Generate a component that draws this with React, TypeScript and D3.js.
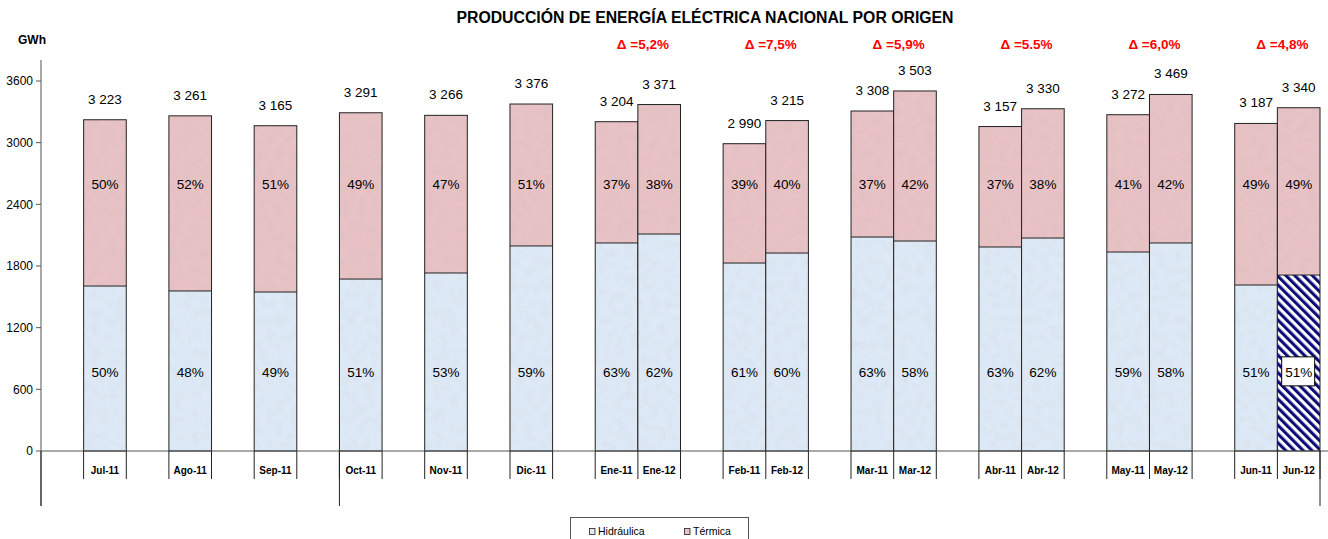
import React from "react";
import * as d3 from "d3";

// ---- Data ----
const slots = ["", "Jul-11", "", "Ago-11", "", "Sep-11", "", "Oct-11", "", "Nov-11", "", "Dic-11", "", "Ene-11", "Ene-12", "", "Feb-11", "Feb-12", "", "Mar-11", "Mar-12", "", "Abr-11", "Abr-12", "", "May-11", "May-12", "", "Jun-11", "Jun-12"];
const months = ["Jul-11", "Ago-11", "Sep-11", "Oct-11", "Nov-11", "Dic-11", "Ene-11", "Ene-12", "Feb-11", "Feb-12", "Mar-11", "Mar-12", "Abr-11", "Abr-12", "May-11", "May-12", "Jun-11", "Jun-12"];
const totals = [3223, 3261, 3165, 3291, 3266, 3376, 3204, 3371, 2990, 3215, 3308, 3503, 3157, 3330, 3272, 3469, 3187, 3340];
const hidraulica = [1605, 1557, 1547, 1673, 1732, 1995, 2024, 2111, 1829, 1926, 2082, 2043, 1985, 2072, 1936, 2024, 1615, 1712];
const termica = [1618, 1704, 1618, 1618, 1534, 1381, 1180, 1260, 1161, 1289, 1226, 1460, 1172, 1258, 1336, 1445, 1572, 1628];
const pctHid = ["50%", "48%", "49%", "51%", "53%", "59%", "63%", "62%", "61%", "60%", "63%", "58%", "63%", "62%", "59%", "58%", "51%", "51%"];
const pctTer = ["50%", "52%", "51%", "49%", "47%", "51%", "37%", "38%", "39%", "40%", "37%", "42%", "37%", "38%", "41%", "42%", "49%", "49%"];
const deltaPairs = [["Ene-11", "Ene-12"], ["Feb-11", "Feb-12"], ["Mar-11", "Mar-12"], ["Abr-11", "Abr-12"], ["May-11", "May-12"], ["Jun-11", "Jun-12"]];
const deltaLabels = ["Δ =5,2%", "Δ =7,5%", "Δ =5,9%", "Δ =5.5%", "Δ =6,0%", "Δ =4,8%"];
const yTicks = [0, 600, 1200, 1800, 2400, 3000, 3600];
const groupSeparators = ["", "Oct-11", "Jun-12"]; // long lines: axis start, before Oct-11, after Jun-12
const highlighted = "Jun-12";
const title = "PRODUCCIÓN DE ENERGÍA ELÉCTRICA NACIONAL POR ORIGEN";
const unit = "GWh";
const legendItems = ["Hidráulica", "Térmica"];

const W = 1328;
const H = 539;
const FONT = "'Liberation Sans', Arial, Helvetica, sans-serif";
const PINK = "#e8c2c5";
const BLUE = "#dde9f6";

const locale = d3.formatLocale({ decimal: ",", thousands: " ", grouping: [3], currency: ["", ""] });
const fmt = locale.format(",d");

export default function App() {
  const x = d3.scaleBand<number>().domain(d3.range(slots.length)).range([41, 1320]).padding(0);
  const y = d3.scaleLinear().domain([0, 3600]).range([451, 81]);
  const slotOf = (m: string) => slots.indexOf(m);
  const bw = x.bandwidth();
  const y0 = y(0);

  const edges = new Set<number>();
  months.forEach((m) => {
    const s = slotOf(m);
    edges.add(Math.round((x(s) as number) * 10) / 10);
    edges.add(Math.round(((x(s) as number) + bw) * 10) / 10);
  });

  return (
    <svg width={W} height={H} style={{ position: "absolute", left: 0, top: 0, background: "#fff" }} fontFamily={FONT}>
      <defs>
        <pattern id="hatch" patternUnits="userSpaceOnUse" width="6.2" height="6.2" patternTransform="rotate(-45)">
          <rect width="6.2" height="6.2" fill="#fff" />
          <rect x="0" y="0" width="3.1" height="6.2" fill="#0c0c78" />
        </pattern>
        <filter id="tex" x="0" y="0" width="100%" height="100%">
          <feTurbulence type="fractalNoise" baseFrequency="0.12" numOctaves="3" seed="3" result="n" />
          <feColorMatrix in="n" type="matrix" values="0 0 0 0 0.5  0 0 0 0 0.45  0 0 0 0 0.45  0 0 0 -0.9 0.55" />
          <feComposite in2="SourceGraphic" operator="in" />
        </filter>
      </defs>

      {/* title */}
      <text x={705} y={23} textAnchor="middle" fontSize={15.8} fontWeight="bold" fill="#000">{title}</text>
      <text x={18} y={44} fontSize={12} fontWeight="bold" fill="#000">{unit}</text>

      {/* delta labels */}
      {deltaPairs.map((p, i) => {
        const bx = (x(slotOf(p[1])) as number) + 5;
        return (
          <text key={i} x={bx} y={49} textAnchor="middle" fontSize={13.5} fontWeight="bold" fill="#ff0000">{deltaLabels[i]}</text>
        );
      })}

      {/* bars */}
      {months.map((m, i) => {
        const s = slotOf(m);
        const bx = x(s) as number;
        const hTop = y(hidraulica[i]);
        const tTop = y(hidraulica[i] + termica[i]);
        const isHl = m === highlighted;
        return (
          <g key={m}>
            <rect x={bx} y={tTop} width={bw} height={hTop - tTop} fill={PINK} />
            <rect x={bx} y={tTop} width={bw} height={hTop - tTop} fill={PINK} filter="url(#tex)" opacity={0.35} />
            <rect x={bx} y={hTop} width={bw} height={y0 - hTop} fill={isHl ? "url(#hatch)" : BLUE} />
            {!isHl && <rect x={bx} y={hTop} width={bw} height={y0 - hTop} fill={BLUE} filter="url(#tex)" opacity={0.25} />}
            <rect x={bx} y={tTop} width={bw} height={y0 - tTop} fill="none" stroke="#222" strokeWidth={1} />
            <line x1={bx} x2={bx + bw} y1={hTop} y2={hTop} stroke="#222" strokeWidth={1} />
          </g>
        );
      })}

      {/* total labels */}
      {months.map((m, i) => {
        const cx = (x(slotOf(m)) as number) + bw / 2;
        return (
          <text key={"t" + m} x={cx} y={y(totals[i]) - 16} textAnchor="middle" fontSize={13.5} fill="#000">{fmt(totals[i])}</text>
        );
      })}

      {/* percentage labels */}
      {months.map((m, i) => {
        const cx = (x(slotOf(m)) as number) + bw / 2;
        const isHl = m === highlighted;
        return (
          <g key={"p" + m}>
            <text x={cx} y={y(2600) + 5} textAnchor="middle" fontSize={13.5} fill="#000">{pctTer[i]}</text>
            {isHl && <rect x={cx - 17} y={y(770) - 15} width={33} height={29} fill="#fff" stroke="#000" strokeWidth={1} />}
            <text x={cx} y={y(770) + 5} textAnchor="middle" fontSize={13.5} fill="#000">{pctHid[i]}</text>
          </g>
        );
      })}

      {/* y axis */}
      <line x1={41} x2={41} y1={60} y2={506} stroke="#555" strokeWidth={1} />
      {yTicks.map((t) => (
        <g key={t}>
          <line x1={36} x2={41} y1={y(t)} y2={y(t)} stroke="#555" />
          <text x={33} y={y(t)} dy="0.35em" textAnchor="end" fontSize={12} fill="#000">{t}</text>
        </g>
      ))}

      {/* x axis */}
      <line x1={41} x2={W} y1={y0} y2={y0} stroke="#555" strokeWidth={1} />
      {Array.from(edges).map((e) => (
        <line key={"e" + e} x1={e} x2={e} y1={y0} y2={479} stroke="#222" strokeWidth={1} />
      ))}
      {groupSeparators.map((g, i) => {
        const xx = g === "" ? 41 : g === "Jun-12" ? (x(slotOf(g)) as number) + bw : (x(slotOf(g)) as number);
        return <line key={"g" + i} x1={xx} x2={xx} y1={y0} y2={506} stroke="#222" strokeWidth={1} />;
      })}
      {months.map((m) => (
        <text key={"c" + m} x={(x(slotOf(m)) as number) + bw / 2} y={474} textAnchor="middle" fontSize={10} fontWeight="bold" fill="#000">{m}</text>
      ))}

      {/* legend */}
      <rect x={570.5} y={517.5} width={178} height={30} fill="#fff" stroke="#555" />
      {legendItems.map((l, i) => {
        const lx = i === 0 ? 589 : 684;
        return (
          <g key={l}>
            <rect x={lx + 0.5} y={528.5} width={5.5} height={6} fill={i === 0 ? BLUE : PINK} stroke="#222" strokeWidth={0.8} />
            <text x={lx + 9} y={535} fontSize={10.5} fill="#000">{l}</text>
          </g>
        );
      })}
    </svg>
  );
}
